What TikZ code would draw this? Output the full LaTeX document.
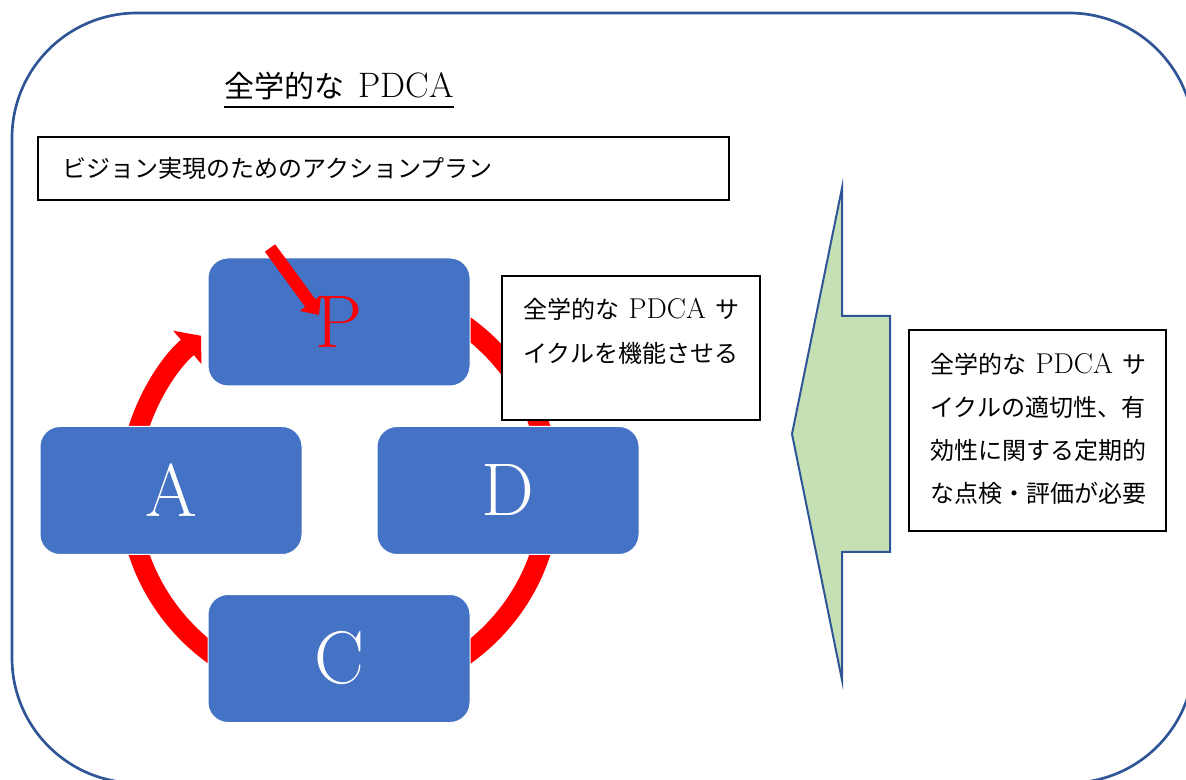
\documentclass[tikz,border=0pt]{standalone}
\usepackage{fontspec}
\newfontfamily\jp{Noto Sans CJK JP}
\usetikzlibrary{arrows.meta}
\definecolor{boxblue}{HTML}{4472C4}
\definecolor{frameblue}{HTML}{2F5597}
\definecolor{arrowgreen}{HTML}{C5E0B4}
\definecolor{ringred}{HTML}{FF0000}
\newcommand{\latbox}[1]{{\rmfamily\fontsize{21.5}{22}\selectfont #1}}
\tikzset{
  bluebox/.style={fill=boxblue, draw=white, line width=0.75pt, rounded corners=15pt,
    minimum width=196.5pt, minimum height=96pt, inner sep=0pt, text=white,
    font=\fontsize{56}{60}\selectfont},
  framebox/.style={draw=black, line width=1.5pt, fill=white, inner sep=0pt},
  jptext/.style={inner sep=0pt, anchor=west, font=\jp\fontsize{18}{22}\selectfont},
  ringline/.style={draw=ringred, line width=15pt},
}
\begin{document}
\begin{tikzpicture}[x=0.75pt,y=-0.75pt]
\useasboundingbox (0,0) rectangle (1186,780);
% outer frame
\begin{scope}
\clip (0,0) rectangle (1186,780);
\draw[frameblue, line width=2pt, rounded corners=93.75pt] (12,13) rectangle (1194,783);
\end{scope}
% title
\node[inner sep=0pt, anchor=base, font=\jp\fontsize{22.5}{26}\selectfont] (title) at (339,98) {全学的な\hspace{11pt}{\rmfamily\fontsize{26.5}{28}\selectfont PDCA}};
\draw[line width=1.5pt] ([yshift=-7pt]title.base west) -- ([yshift=-7pt]title.base east);
% action plan box
\node[framebox, minimum width=518.25pt, minimum height=47.25pt] (plan) at (383.5,168.5) {};
\node[jptext] (plantext) at (62,168) {ビジョン実現のためのアクションプラン};
% cycle ring
\coordinate (ctr) at (339.5,490.5);
\draw[ringline, -{Triangle[width=32pt,length=13.5pt]}]
  (ctr) ++(75:158.25pt and 153.75pt)
  arc[start angle=75, end angle=-229, x radius=158.25pt, y radius=153.75pt];
% PDCA boxes
\node[bluebox] (P) at (339,322) {\textcolor{ringred}{P}};
\node[bluebox] (A) at (171,490.5) {A};
\node[bluebox] (D) at (508,490.5) {D};
\node[bluebox] (C) at (339,658.5) {C};
% small arrow into P
\coordinate (s1) at (270,248);
\coordinate (s2) at (319,315);
\draw[ringred, line width=9.5pt, -{Triangle[width=19pt,length=11pt]}] (s1) -- (s2);
% box 1
\node[framebox, minimum width=193.5pt, minimum height=108pt] (box1) at (631,348) {};
\node[jptext] (b1l1) at (523,309) {\makebox[162pt][s]{全学的な\ \latbox{PDCA}\ サ}};
\node[jptext] (b1l2) at (523,353) {イクルを機能させる};
% green block arrow
\draw[frameblue, fill=arrowgreen, line width=1.5pt, line join=miter]
  (842,188) -- (842,316) -- (890,316) -- (890,552) -- (842,552) -- (842,680) -- (792,434) -- cycle;
% box 2
\node[framebox, minimum width=192.75pt, minimum height=150.75pt] (box2) at (1037.5,430.5) {};
\node[jptext] (b2l1) at (930,364) {\makebox[162pt][s]{全学的な\ \latbox{PDCA}\ サ}};
\node[jptext] (b2l2) at (930,407) {イクルの適切性、有};
\node[jptext] (b2l3) at (930,450) {効性に関する定期的};
\node[jptext] (b2l4) at (930,493) {な点検・評価が必要};
\end{tikzpicture}
\end{document}
